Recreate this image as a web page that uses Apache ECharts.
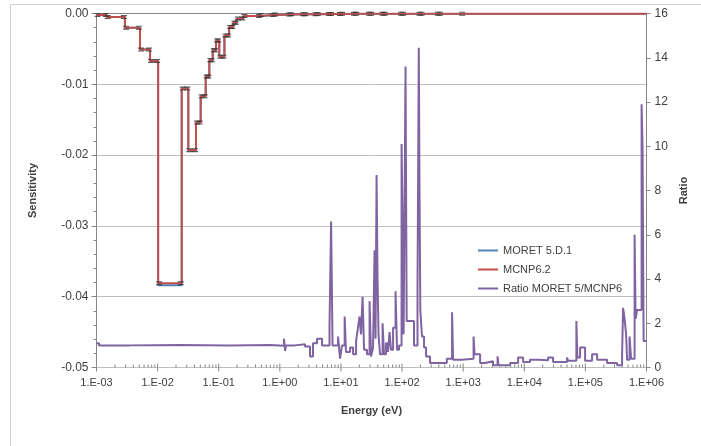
<!DOCTYPE html>
<html>
<head>
<meta charset="utf-8">
<script src="https://cdn.jsdelivr.net/npm/echarts@6/dist/echarts.min.js"></script>
<style>
html,body{margin:0;padding:0;background:#fff;}
#c{width:701px;height:446px;}
</style>
</head>
<body>
<div id="c"></div>
<script>
// Sensitivity group edges (eV) and values
const sensE = [0.001, 0.00147, 0.00292, 0.00515, 0.00752, 0.0102, 0.0248, 0.0318, 0.0425, 0.0507, 0.0612, 0.0702, 0.0797, 0.0904, 0.102, 0.124, 0.148, 0.173, 0.197, 0.253, 0.474, 0.8, 1.47, 2.5, 4, 6.6, 10, 17, 30, 50, 100, 200, 400, 1000, 1000000];
const sensMcnp = [-0.0002, -0.0005, -0.0020, -0.0051, -0.0067, -0.0381, -0.0106, -0.0193, -0.0154, -0.0117, -0.0089, -0.0066, -0.0052, -0.0038, -0.0061, -0.0031, -0.0019, -0.0013, -0.0007, -0.00035, -0.0002, -0.00015, -0.0001, -0.0001, -0.00008, -0.00006, -0.00005, -0.00004, -0.00004, -0.00003, -0.00003, -0.00003, -0.00002, -0.00002];
const sensMoret = [-0.0002, -0.0005, -0.0020, -0.0051, -0.0067, -0.0384, -0.0106, -0.0193, -0.0154, -0.0117, -0.0089, -0.0066, -0.0052, -0.0038, -0.0061, -0.0031, -0.0019, -0.0013, -0.0007, -0.00035, -0.0002, -0.00015, -0.0001, -0.0001, -0.00008, -0.00006, -0.00005, -0.00004, -0.00004, -0.00003, -0.00003, -0.00003, -0.00002, -0.00002];

// Ratio group edges (eV) and values
const ratioE = [0.001, 0.0011, 0.0035, 0.023, 0.153, 0.69, 1.17, 1.22, 1.26, 1.77,
  2.58, 3.12, 3.49, 4.06, 4.91, 6.5, 6.9, 7.29, 8.97, 9.67,
  10.4, 11.5, 12.1, 14.1, 15.8, 17.7, 19.0, 20.1, 21.3, 22.6,
  23.9, 26.7, 29.4, 31.1, 33.5, 35.5, 36.8, 38.3, 39.7, 41.2,
  43.6, 48.0, 50.7, 54.7, 59.0, 62.4, 66.1, 71.3, 78.3, 82.8,
  89.3, 98.2, 102, 106, 114, 119, 157, 179, 188, 193,
  199, 212, 229, 247, 287, 540, 658, 684, 949, 1480,
  1537, 1892, 2282, 3084, 3655, 3795, 5857, 7925, 9560, 12400,
  16800, 24500, 29600, 50100, 52100, 71200, 74000, 81900, 98900, 128800,
  155500, 226600, 330300, 398700, 414000, 438400, 463800, 481300, 528500, 559600,
  638700, 663300, 701700, 831000, 862000, 897000, 1000000];
const ratioV = [1.1, 1.0, 1.02, 0.99, 1.02, 0.98, 1.3, 0.75, 1.0, 1.05,
  0.95, 0.5, 1.1, 1.3, 1.0, 1.9, 6.6, 1.0, 1.4, 0.4,
  1.0, 2.3, 0.7, 0.9, 0.6, 1.2, 1.8, 2.3, 1.5, 3.2,
  0.8, 0.6, 3.0, 0.5, 0.9, 5.3, 1.3, 8.7, 4.0, 1.5,
  0.6, 2.0, 0.6, 1.1, 0.7, 1.6, 0.8, 1.8, 3.45, 0.8,
  1.0, 10.1, 6.5, 1.5, 13.6, 2.1, 1.0, 3.5, 14.45, 8.0,
  2.6, 1.4, 0.9, 0.5, 0.2, 0.4, 2.5, 0.35, 0.4, 1.4,
  0.6, 0.2, 0.28, 0.1, 0.5, 0.1, 0.2, 0.45, 0.25, 0.35,
  0.33, 0.45, 0.25, 0.45, 0.3, 2.1, 0.45, 0.9, 0.3, 0.6,
  0.35, 0.2, 0.1, 0.6, 2.7, 2.2, 1.5, 0.35, 1.4, 0.4,
  6.0, 2.2, 2.6, 11.9, 10.0, 1.2];

// Axis ticks
const xDecades = [0.001, 0.01, 0.1, 1, 10, 100, 1000, 10000, 100000, 1000000];
const xMinorMult = [2, 3, 4, 5, 6, 7, 8, 9];
const leftTicks = [-0.05, -0.04, -0.03, -0.02, -0.01, 0];
const rightTicks = [0, 2, 4, 6, 8, 10, 12, 14, 16];

const seriesNames = ['MORET 5.D.1', 'MCNP6.2', 'Ratio MORET 5/MCNP6'];
const seriesColors = ['#4f81bd', '#c0504d', '#8064a2'];

function stepData(edges, vals) {
  const d = [];
  for (let i = 0; i < vals.length; i++) d.push([edges[i], vals[i]]);
  d.push([edges[vals.length], vals[vals.length - 1]]);
  return d;
}
function capData(edges, vals) {
  const d = [];
  for (let i = 0; i < vals.length - 1; i++) {
    d.push([edges[i] * 1.04, vals[i]]);
    d.push([edges[i + 1] / 1.04, vals[i]]);
  }
  return d;
}
const tickData = [];
xDecades.forEach((d, k) => {
  tickData.push([d, 1]);
  if (k < xDecades.length - 1) xMinorMult.forEach(m => tickData.push([d * m, 0]));
});

const FONT = 'Liberation Sans';
const TXT = '#404040';
const AX = '#868686';

const chart = echarts.init(document.getElementById('c'), null, {renderer: 'canvas'});
chart.setOption({
  animation: false,
  backgroundColor: '#fff',
  graphic: [{
    type: 'rect', silent: true, z: -1,
    shape: {x: 10.5, y: 4.5, width: 900, height: 900},
    style: {fill: 'none', stroke: '#d0d0d0', lineWidth: 1}
  }],
  grid: {left: 96.5, right: 54.5, top: 13.5, bottom: 78.5, containLabel: false},
  legend: {
    data: seriesNames.map(n => ({name: n, icon: 'rect'})),
    orient: 'vertical',
    left: 473, top: 239,
    itemWidth: 20, itemHeight: 2, itemGap: 6,
    textStyle: {fontFamily: FONT, fontSize: 11, color: TXT, lineHeight: 13}
  },
  xAxis: {
    type: 'log', logBase: 10, min: 0.001, max: 1000000,
    splitNumber: 9,
    name: 'Energy (eV)', nameLocation: 'middle', nameGap: 38,
    nameTextStyle: {fontFamily: FONT, fontSize: 11, fontWeight: 'bold', color: TXT},
    axisLine: {show: true, lineStyle: {color: AX, width: 1}},
    axisTick: {show: false},
    minorTick: {show: false},
    splitLine: {show: false},
    axisLabel: {
      fontFamily: FONT, fontSize: 11, color: TXT, margin: 10,
      formatter: function (v) {
        const e = Math.round(Math.log10(v));
        const a = Math.abs(e);
        return '1.E' + (e < 0 ? '-' : '+') + (a < 10 ? '0' + a : a);
      }
    }
  },
  yAxis: [{
    type: 'value', min: -0.05, max: 0, interval: 0.01,
    name: 'Sensitivity', nameLocation: 'middle', nameGap: 58, nameRotate: 90,
    nameTextStyle: {fontFamily: FONT, fontSize: 11, fontWeight: 'bold', color: TXT},
    axisLine: {show: true, lineStyle: {color: AX}},
    axisTick: {show: true, length: 5, lineStyle: {color: AX}},
    minorTick: {show: true, splitNumber: 5, length: 3, lineStyle: {color: AX}},
    splitLine: {show: true, lineStyle: {color: '#bfbfbf', width: 1}},
    axisLabel: {
      fontFamily: FONT, fontSize: 12, color: TXT, margin: 8,
      formatter: v => (Math.abs(v) < 1e-9 ? 0 : v).toFixed(2)
    }
  }, {
    type: 'value', min: 0, max: 16, interval: 2, position: 'right',
    name: 'Ratio', nameLocation: 'middle', nameGap: 30, nameRotate: 90,
    nameTextStyle: {fontFamily: FONT, fontSize: 11, fontWeight: 'bold', color: TXT},
    axisLine: {show: true, lineStyle: {color: AX}},
    axisTick: {show: true, length: 4, lineStyle: {color: AX}},
    splitLine: {show: false},
    axisLabel: {fontFamily: FONT, fontSize: 12, color: TXT, margin: 8}
  }],
  series: [{
    name: seriesNames[0], type: 'line', step: 'end', yAxisIndex: 0,
    data: stepData(sensE, sensMoret), symbol: 'none',
    lineStyle: {color: seriesColors[0], width: 2}, itemStyle: {color: seriesColors[0]}, z: 2
  }, {
    name: seriesNames[1], type: 'line', step: 'end', yAxisIndex: 0,
    data: stepData(sensE, sensMcnp), symbol: 'none',
    lineStyle: {color: seriesColors[1], width: 2}, itemStyle: {color: seriesColors[1]}, z: 3
  }, {
    name: 'caps', type: 'scatter', yAxisIndex: 0, silent: true,
    data: capData(sensE, sensMcnp),
    symbol: 'path://M0,0H10V1.2H0Z M0,3H10V4.2H0Z', symbolSize: [6, 4],
    itemStyle: {color: '#333333'}, z: 4
  }, {
    name: seriesNames[2], type: 'line', step: 'end', yAxisIndex: 1,
    data: stepData(ratioE, ratioV), symbol: 'none',
    lineStyle: {color: seriesColors[2], width: 2}, itemStyle: {color: seriesColors[2]}, z: 5
  }, {
    name: 'xticks', type: 'custom', yAxisIndex: 0, silent: true, clip: false,
    data: tickData,
    renderItem: function (params, api) {
      const p = api.coord([api.value(0), -0.05]);
      const major = api.value(1) === 1;
      return {
        type: 'line',
        shape: {x1: p[0], y1: p[1] - (major ? 4 : 3), x2: p[0], y2: p[1] + (major ? 4 : 0)},
        style: {stroke: AX, lineWidth: 1}
      };
    },
    z: 6
  }]
});
</script>
</body>
</html>
